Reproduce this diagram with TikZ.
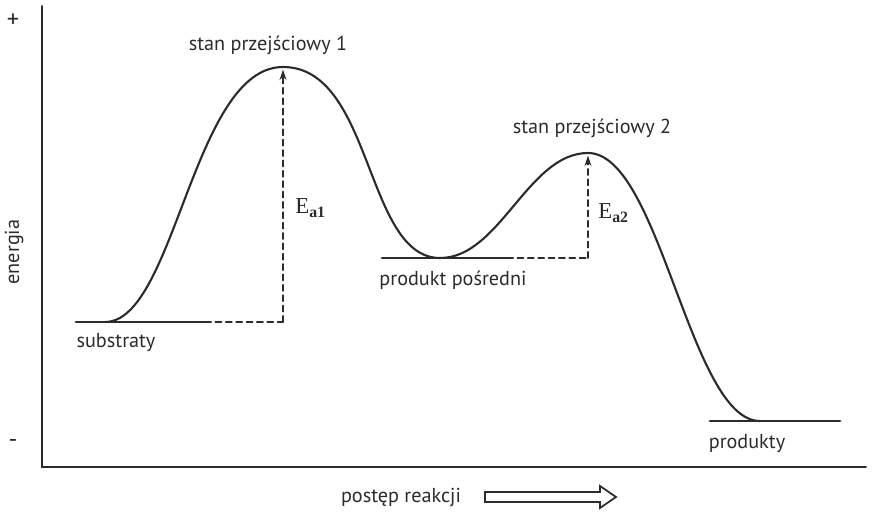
\documentclass[tikz,border=0pt]{standalone}
\usepackage{fontspec}
\setmainfont{PT Sans}
\newfontfamily\eafont{Liberation Serif}
\usetikzlibrary{arrows.meta}
\definecolor{ink}{HTML}{2B2B2B}

\begin{document}
\begin{tikzpicture}[x=0.02cm, y=-0.02cm, >={Stealth[length=6pt, width=4pt]}, line cap=round,
  axis/.style={line width=1.1pt, ink},
  curve/.style={line width=1.2pt, ink},
  level/.style={line width=1.6pt, ink},
  guide/.style={line width=0.9pt, ink, dash pattern=on 3.5pt off 2.4pt},
  lbl/.style={font=\fontsize{11.5}{13}\selectfont, text=ink, inner sep=0pt},
  sign/.style={font=\fontsize{14}{15}\selectfont, text=ink, inner sep=0pt},
  ea/.style={font=\eafont\fontsize{13}{15}\selectfont, text=ink, inner sep=0pt, anchor=west}]
\useasboundingbox (0,0) rectangle (893,513);

% axes
\coordinate (top) at (42,6);
\coordinate (origin) at (42,467);
\coordinate (right) at (866,467);
\draw[axis] (top) -- (origin) -- (right);
\node[sign] (plus) at (13,21) {+};
\node[sign] (minus) at (13,444) {-};
\node[lbl, rotate=90] (energia) at (14,252) {energia};

% energy levels
\coordinate (sub) at (105,322);
\coordinate (ts1) at (283,67);
\coordinate (inter) at (440,258);
\coordinate (ts2) at (588,153);
\coordinate (prod) at (760,421);
\coordinate (subL) at (76,322);
\coordinate (subR) at (205,322);
\coordinate (sub1) at (283,322);
\coordinate (intL) at (382,258);
\coordinate (intR) at (507,258);
\coordinate (int2) at (588,258);
\coordinate (prodL) at (710,421);
\coordinate (prodR) at (840,421);
\draw[level] (subL) -- (subR);
\draw[level] (intL) -- (intR);
\draw[level] (prodL) -- (prodR);
\draw[guide] (subR) -- (sub1);
\draw[guide] (intR) -- (int2);
\draw[guide, ->, shorten >=1.5pt] (sub1) -- (ts1);
\draw[guide, ->, shorten >=1.5pt] (int2) -- (ts2);

% reaction path
\draw[curve] (sub) .. controls (175,322) and (193,67) .. (ts1)
  .. controls (373,67) and (365,258) .. (inter)
  .. controls (500,258) and (528,153) .. (ts2)
  .. controls (660,153) and (690,421) .. (prod);

% labels
\node[lbl] (ts1lbl) at (268,45) {stan przejściowy 1};
\node[lbl] (ts2lbl) at (592,128) {stan przejściowy 2};
\node[lbl] (sublbl) at (116,343) {substraty};
\node[lbl] (intlbl) at (453,280) {produkt pośredni};
\node[lbl] (prodlbl) at (747,443) {produkty};
\node[ea] (ea1) at (295,208) {E\raisebox{-0.45ex}{\fontsize{9}{9}\selectfont\bfseries a1}};
\node[ea] (ea2) at (598,213) {E\raisebox{-0.45ex}{\fontsize{9}{9}\selectfont\bfseries a2}};
\node[lbl] (postep) at (401,497) {postęp reakcji};
\draw[line width=1pt, ink, line join=miter] (485,492) -- (600,492) -- (600,486) -- (616,497)
  -- (600,508) -- (600,502) -- (485,502) -- cycle;
\end{tikzpicture}
\end{document}
